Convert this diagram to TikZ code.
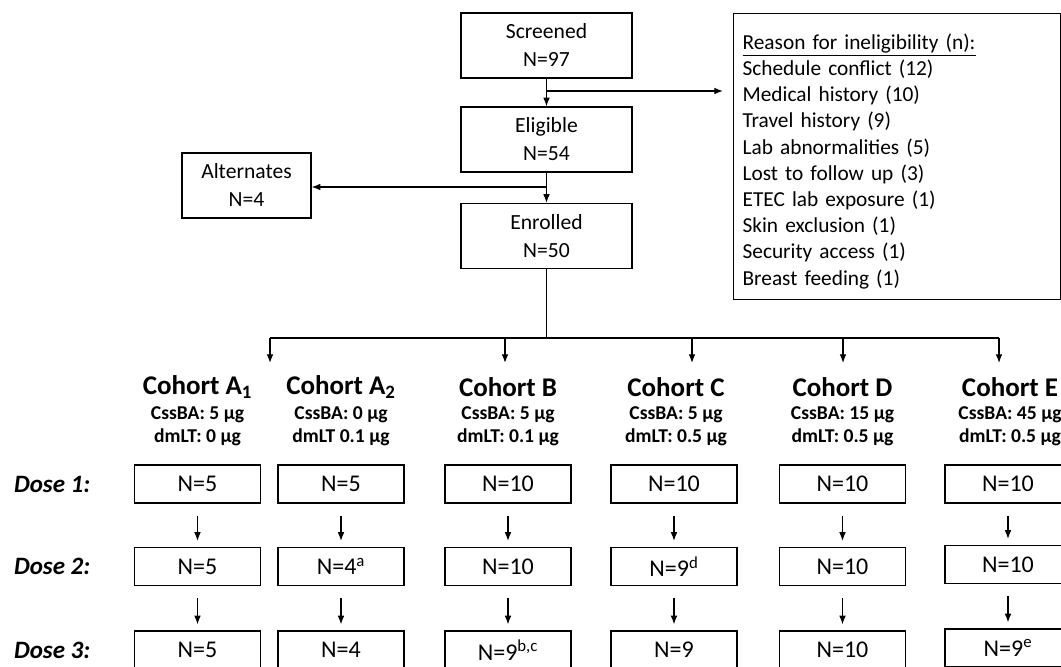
\documentclass[tikz,border=0pt]{standalone}
\usepackage{fontspec}
\setmainfont{Carlito}
\usetikzlibrary{arrows.meta}
\begin{document}
\begin{tikzpicture}[x=0.75pt,y=-0.75pt,line width=0.9pt,
	arr/.style={-{Latex[length=6.5pt,width=5pt]}},
	stagebox/.style={draw,minimum width=128.25pt,minimum height=48.75pt,align=center,
		font=\fontsize{16.2}{21}\selectfont},
	dosebox/.style={draw,minimum width=94.5pt,minimum height=28.5pt,
		font=\fontsize{18}{21}\selectfont},
	cohorttitle/.style={font=\fontsize{20.25}{24}\selectfont\bfseries},
	cohortinfo/.style={align=center,font=\fontsize{14.7}{17.3}\selectfont\bfseries},
	doselabel/.style={anchor=west,font=\fontsize{18.75}{22}\selectfont\bfseries\itshape}]
		\useasboundingbox (0,0) rectangle (1061,667);
		\clip (0,0) rectangle (1061,667);
		\node[stagebox] (scr) at (546.5,45.5) {Screened\\N=97};
		\node[stagebox] (elig) at (546.5,139.5) {Eligible\\N=54};
		\node[stagebox] (enr) at (546.5,236) {Enrolled\\N=50};
		\node[stagebox,minimum width=96.75pt] (alt) at (246.5,185.5) {Alternates\\N=4};
		\node[draw,anchor=north west,minimum width=245.25pt,minimum height=214.5pt] (why) at (733,13) {};
		\node[text width=231.75pt,align=left,font=\fontsize{16}{19.65}\selectfont] (whytext)
			at ([yshift=-3.5pt]why.center)
			{\underline{Reason for ineligibility (n):}\\Schedule conflict (12)\\Medical history (10)\\
			Travel history (9)\\Lab abnormalities (5)\\Lost to follow up (3)\\ETEC lab exposure (1)\\
			Skin exclusion (1)\\Security access (1)\\Breast feeding (1)};
		\coordinate (split1) at (546.5,91);
		\coordinate (split2) at (546.5,187);
		\draw[arr] (scr) -- (elig);
		\draw[arr,shorten >=7.5pt] (split1) -- (split1 -| why.west);
		\draw[arr] (elig) -- (enr);
		\draw[arr] (split2) -- (split2 -| alt.east);
		\coordinate (tee) at (546.5,338);
		\draw (enr) -- (tee);
		\foreach \x [count=\i] in {270,505,692,843,999}
			\coordinate (br\i) at (\x,338);
		\draw (br1) -- (br5);
		\foreach \i in {1,...,5}
			\draw[arr] (br\i) -- ++(0,25);
		\foreach \c/\x/\t/\p/\q in {
			a1/197.5/{Cohort A\textsubscript{1}}/{CssBA: 5 µg}/{dmLT: 0 µg},
			a2/341/{Cohort A\textsubscript{2}}/{CssBA: 0 µg}/{dmLT 0.1 µg},
			b/508/{Cohort B}/{CssBA: 5 µg}/{dmLT: 0.1 µg},
			c/676/{Cohort C}/{CssBA: 5 µg}/{dmLT: 0.5 µg},
			d/842.5/{Cohort D}/{CssBA: 15 µg}/{dmLT: 0.5 µg},
			e/1010/{Cohort E}/{CssBA: 45 µg}/{dmLT: 0.5 µg}}
		{
			\node[cohorttitle] (t\c) at (\x,387) {\t};
			\node[cohortinfo] (i\c) at (\x,426.5) {\p\\\q};
		}
		\node[doselabel] (dose1) at (9,484) {Dose 1:};
		\node[doselabel] (dose2) at (9,566) {Dose 2:};
		\node[doselabel] (dose3) at (9,650) {Dose 3:};
		\foreach \c/\x/\s/\ta/\tb/\tc in {
			a1/197.5/0/N=5/N=5/N=5,
			a2/341/0/N=5/{N=4\textsuperscript{a}}/N=4,
			b/508/0/N=10/N=10/{N=9\textsuperscript{b,c}},
			c/674/0/N=10/{N=9\textsuperscript{d}}/N=9,
			d/842.5/0/N=10/N=10/N=10,
			e/1008/2/N=10/N=10/{N=9\textsuperscript{e}}}
		{
			\node[dosebox] (\c1) at (\x,484) {\ta};
			\node[dosebox] (\c2) at (\x,566.5-\s) {\tb};
			\node[dosebox] (\c3) at (\x,650-\s) {\tc};
			\draw[arr,shorten <=9pt,shorten >=4.5pt] (\c1) -- (\c2);
			\draw[arr,shorten <=9pt,shorten >=4.5pt] (\c2) -- (\c3);
		}
\end{tikzpicture}
\end{document}
